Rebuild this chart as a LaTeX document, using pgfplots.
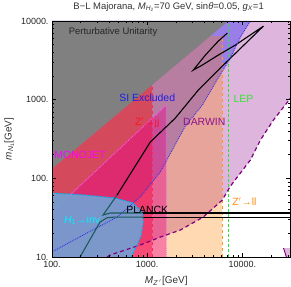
\documentclass[border=0pt]{standalone}
\usepackage{pgfplots}
\pgfplotsset{compat=1.18}
\usepackage{fontspec}
\setmainfont{Liberation Sans}
\definecolor{plumfill}{RGB}{221,181,221}
\definecolor{grayfill}{RGB}{128,128,128}
\definecolor{h1fill}{RGB}{112,162,212}
\definecolor{sidot}{RGB}{50,50,230}
\definecolor{darwinline}{RGB}{128,0,128}
\definecolor{redline}{RGB}{255,40,90}
\definecolor{magline}{RGB}{255,90,255}
\definecolor{orline}{RGB}{255,150,40}
\definecolor{lepline}{RGB}{40,230,40}
\definecolor{tealline}{RGB}{25,90,90}
\definecolor{lblblue}{RGB}{30,30,230}
\definecolor{lblred}{RGB}{255,20,30}
\definecolor{lblpurple}{RGB}{140,20,140}
\definecolor{lblgreen}{RGB}{50,230,50}
\definecolor{lblmag}{RGB}{255,0,255}
\definecolor{lblcyan}{RGB}{0,240,255}
\definecolor{lblorange}{RGB}{255,140,20}
\begin{document}
\begin{tikzpicture}
\useasboundingbox (0,0) rectangle (291bp,287bp);
\begin{axis}[
  at={(52bp,30bp)}, anchor=south west,
  scale only axis, width=238bp, height=236bp,
  xmode=log, ymode=log,
  xmin=100, xmax=31623, ymin=10, ymax=10000,
  xtick={100,1000,10000}, xticklabels={100.,1000.,10000.},
  ytick={10,100,1000,10000}, yticklabels={10.,100.,1000.,10000.},
  minor xtick={200,300,400,500,600,700,800,900,2000,3000,4000,5000,6000,7000,8000,9000,20000,30000},
  minor ytick={20,30,40,50,60,70,80,90,200,300,400,500,600,700,800,900,2000,3000,4000,5000,6000,7000,8000,9000},
  tick label style={font=\fontsize{9}{10}\selectfont, text=black!85},
  xticklabel style={yshift=-1bp},
  major tick length=4bp, minor tick length=2bp,
  tick style={black, line width=0.6bp},
  axis line style={line width=0.8bp},
  axis on top,
  xlabel={\textit{M}\textsubscript{\textit{Z}\,$'$}[GeV]},
  ylabel={\textit{m}\textsubscript{\textit{N}\textsubscript{1}}[GeV]},
  xlabel style={at={(axis description cs:0.48,-0.1)}, anchor=center, font=\fontsize{10}{11}\selectfont, text=black!80},
  ylabel style={at={(axis description cs:-0.18,0.5)}, anchor=center, font=\fontsize{10}{11}\selectfont, text=black!80},
  title={B−L Majorana, \textit{M}\textsubscript{\textit{H}\textsubscript{2}}=70 GeV, sin\textit{θ}=0.05, \textit{g}\textsubscript{\textit{X}}=1},
  title style={at={(axis description cs:0.49,1)}, anchor=base, yshift=6bp, inner sep=0pt, font=\fontsize{9.5}{11}\selectfont, text=black!80},
]
% DARWIN region
\addplot[draw=none, fill=plumfill] coordinates {
 (380,10) (408,10.6) (843,14.2) (1370,17.9) (2225,22) (3880,32.2) (6150,53) (7400,78)
 (9530,117) (12130,171) (15460,307) (21180,551) (29760,934) (31623,1047) (31623,10000) (100,10000) (100,10)} -- cycle;
\addplot[draw=none, fill=plumfill] coordinates {(27000,13) (29000,10) (31623,10) (31623,13)} -- cycle;
% SI excluded
\addplot[draw=none, fill=blue, fill opacity=0.3] coordinates {
 (100,11.6) (212,19) (483,32.2) (843,57.9) (1370,120) (1833,229) (2512,462) (3793,853)
 (5321,1722) (7475,3382) (9530,6237) (12140,10000) (100,10000)} -- cycle;
% Z'->ll
\addplot[draw=none, fill={rgb,255:red,255;green,128;blue,0}, fill opacity=0.3] coordinates {
 (100,10) (6150,10) (6150,6500) (100,6500)} -- cycle;
% Z'->jj
\addplot[draw=none, fill=red, fill opacity=0.42] coordinates {
 (100,10) (1130,10) (1130,10000) (100,10000)} -- cycle;
% MONOJET
\addplot[draw=none, fill=magenta, fill opacity=0.4] coordinates {
 (100,10) (100,37.3) (1585,853) (1585,10)} -- cycle;
% Perturbative unitarity
\addplot[draw=none, fill=grayfill] coordinates {
 (100,132) (7122,10000) (100,10000)} -- cycle;
% boundary lines
\addplot[redline, line width=0.9bp, dashed] coordinates {(1130,10) (1130,1545)};
\addplot[magline, line width=0.9bp, densely dotted] coordinates {(100,37.3) (1585,853) (1585,10)};
\addplot[orline, line width=0.9bp, dashed] coordinates {(6150,10) (6150,6500)};
\addplot[lepline, line width=1.4bp, dash pattern=on 3bp off 2bp] coordinates {(7100,10) (7100,10000)};
% PLANCK black parts
\addplot[black, line width=1.1bp] coordinates {(886,36.2) (31623,36.2)};
\addplot[black, line width=1.1bp] coordinates {(907,32.2) (31623,32.2)};
\addplot[black, line width=1.1bp] coordinates {
 (483,61.4) (1077,289) (1972,583) (3443,1325) (4083,1626) (6310,2754) (16630,8610)
 (8433,4943) (5585,3690) (3793,2754) (3048,2377) (4083,3690) (5585,5555) (6950,7020)};
% H1 -> inv
\addplot[draw=none, fill=h1fill, fill opacity=0.9] coordinates {
 (100,10) (100,65) (222,61.4) (460,56.2) (713,48.5) (886,37.3) (907,27.9) (865,19) (785,14.2) (679,10)} -- cycle;
% SI and DARWIN boundaries (seen through H1)
\addplot[sidot, line width=0.9bp, densely dotted] coordinates {
 (100,11.6) (212,19) (483,32.2) (843,57.9) (1370,120) (1833,229) (2512,462) (3793,853)
 (5321,1722) (7475,3382) (9530,6237) (12140,10000)};
\addplot[darwinline, line width=1.2bp, dash pattern=on 4bp off 3bp] coordinates {
 (380,10) (408,10.6) (843,14.2) (1370,17.9) (2225,22) (3880,32.2) (6150,53) (7400,78)
 (9530,117) (12130,171) (15460,307) (21180,551) (29760,934) (31623,1047)};
\addplot[darwinline, line width=1bp] coordinates {(27000,13) (29000,10)};
\addplot[cyan, line width=1bp, dash pattern=on 2.5bp off 1.5bp] coordinates {
 (100,65) (222,61.4) (460,56.2) (713,48.5) (886,37.3) (907,27.9) (865,19) (785,14.2) (679,10)};
% PLANCK teal parts (inside H1 region)
\addplot[tealline, line width=1.1bp] coordinates {(197,10) (320,27.9) (380,31.6) (460,32.2) (907,32.2)};
\addplot[tealline, line width=1.1bp] coordinates {(483,61.4) (344,34.2) (408,36.2) (886,36.2)};
% labels
\node[font=\fontsize{9.5}{10}\selectfont, text=black!85] at (axis cs:438,7228) {Perturbative Unitarity};
\node[font=\fontsize{10.5}{12}\selectfont, text=lblblue] at (axis cs:1000,1047) {SI Excluded};
\node[font=\fontsize{10.5}{12}\selectfont, text=lblred] at (axis cs:1000,505) {Z$'$→jj};
\node[font=\fontsize{10.5}{12}\selectfont, text=lblpurple] at (axis cs:3981,519) {DARWIN};
\node[font=\fontsize{10.5}{12}\selectfont, text=lblgreen] at (axis cs:10250,1018) {LEP};
\node[font=\fontsize{10.5}{12}\selectfont, text=lblmag] at (axis cs:197,198) {MONOJET};
\node[font=\fontsize{10.5}{12}\selectfont, text=lblcyan] at (axis cs:207,29.5) {\textit{H}\textsubscript{1}→inv};
\node[font=\fontsize{10.5}{12}\selectfont, text=black] at (axis cs:1000,39.5) {PLANCK};
\node[font=\fontsize{10.5}{12}\selectfont, text=lblorange] at (axis cs:10500,50) {Z$'$→ll};
\end{axis}
\end{tikzpicture}
\end{document}
